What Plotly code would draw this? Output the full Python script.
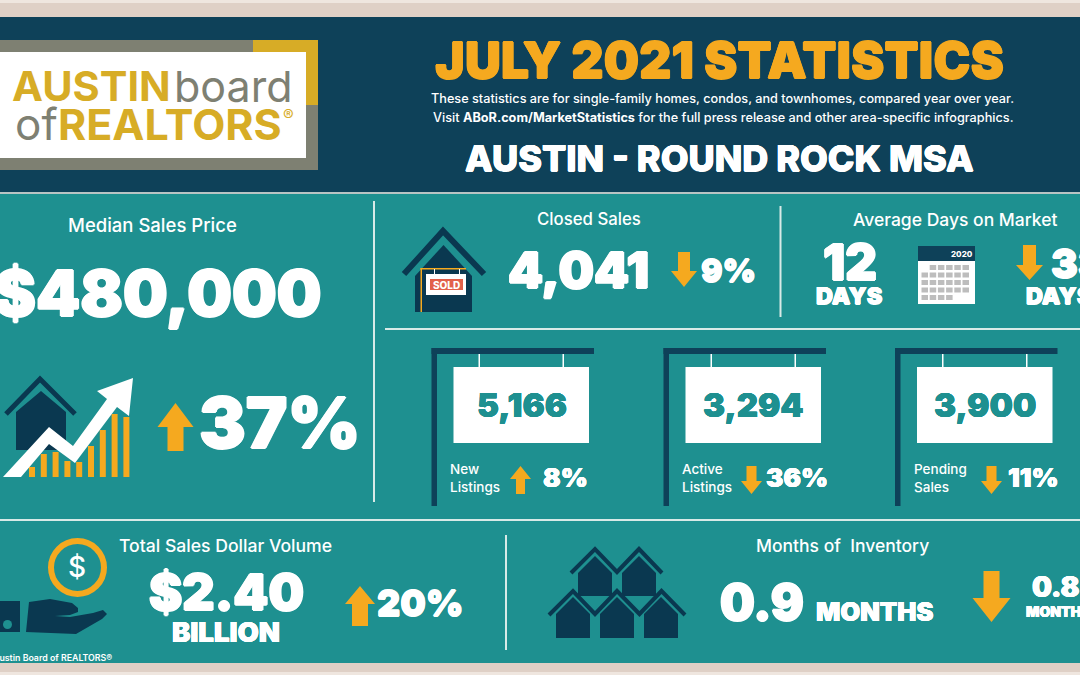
import plotly.graph_objects as go

# ---- data ----
title = "JULY 2021 STATISTICS"
subtitle_lines = [
    "These statistics are for single-family homes, condos, and townhomes, compared year over year.",
    "Visit <b>ABoR.com/MarketStatistics</b> for the full press release and other area-specific infographics.",
]
region = "AUSTIN - ROUND ROCK MSA"
median_price = "$480,000"
median_change = "37%"
closed_sales = "4,041"
closed_change = "9%"
days_on_market = "12"
days_change = "33"
sign_values = ["5,166", "3,294", "3,900"]
sign_labels = ["New<br>Listings", "Active<br>Listings", "Pending<br>Sales"]
sign_changes = ["8%", "36%", "11%"]
sign_directions = ["up", "down", "down"]
dollar_volume = "$2.40"
dollar_change = "20%"
inventory = "0.9"
inventory_change = "0.8"
growth_bar_tops = [467, 454, 452, 461, 462, 446, 430, 414, 417]

NAVY = "#0E4159"
DARK = "#0A3850"
TEAL = "#1E9090"
GOLD = "#F5A91F"
LOGOGOLD = "#D7AC26"
GREY = "#7E8072"
BEIGE = "#DFD0C6"
WHITE = "#FFFFFF"
LINE = "#D8EAE7"
HEAVY = "Inter"
BODY = "Inter"

shapes, notes = [], []


def rect(x0, y0, x1, y1, c):
    shapes.append(dict(type="rect", x0=x0, y0=y0, x1=x1, y1=y1, fillcolor=c, line_width=0))


def poly(pts, c):
    p = "M" + " L".join(f"{x},{y}" for x, y in pts) + " Z"
    shapes.append(dict(type="path", path=p, fillcolor=c, line_width=0))


def stroke(pts, c, w):
    p = "M" + " L".join(f"{x},{y}" for x, y in pts)
    shapes.append(dict(type="path", path=p, line=dict(color=c, width=w), fillcolor="rgba(0,0,0,0)"))


def text(x, y, s, size, color=WHITE, weight=400, anchor="center", family=BODY, fat=0):
    font = dict(size=size, color=color, family=family, weight=weight)
    if fat:
        font["shadow"] = f"{fat}px 0 0 {color}, -{fat}px 0 0 {color}, 0 {fat}px 0 {color}, 0 -{fat}px 0 {color}"
    notes.append(dict(x=x, y=y, text=s, showarrow=False, xanchor=anchor, yanchor="middle",
                      align="left" if anchor == "left" else "center", font=font))


def up(cx, top, wing_y, bottom, half_w, half_s):
    poly([(cx, top), (cx + half_w, wing_y), (cx + half_s, wing_y), (cx + half_s, bottom),
          (cx - half_s, bottom), (cx - half_s, wing_y), (cx - half_w, wing_y)], GOLD)


def down(cx, top, wing_y, bottom, half_w, half_s):
    poly([(cx, bottom), (cx + half_w, wing_y), (cx + half_s, wing_y), (cx + half_s, top),
          (cx - half_s, top), (cx - half_s, wing_y), (cx - half_w, wing_y)], GOLD)


def house(x0, x1, apex_y, eave_y, bottom, c=DARK):
    poly([(x0, eave_y), ((x0 + x1) / 2, apex_y), (x1, eave_y), (x1, bottom), (x0, bottom)], c)


# ---- bands ----
rect(0, 0, 1080, 675, BEIGE)
rect(0, 0, 1080, 3, "#EFE6DF")
rect(0, 17, 1080, 192, NAVY)
rect(0, 192, 1080, 194, "#B9C4C4")
rect(0, 194, 1080, 663, TEAL)
rect(0, 672, 1080, 675, "#EFE6DF")

# ---- logo ----
rect(0, 40, 318, 170, GREY)
rect(253, 40, 318, 52, LOGOGOLD)
rect(306, 40, 318, 105, LOGOGOLD)
rect(0, 52, 306, 158, WHITE)
text(10, 86, "AUSTIN", 41.5, LOGOGOLD, 700, "left", "Inter")
text(172, 86, "board", 43, GREY, 400, "left", "Inter")
text(13, 124, "of", 44, GREY, 400, "left", "Inter")
text(56, 124, "REALTORS", 43, LOGOGOLD, 700, "left", "Inter")
text(281, 115, "®", 16, LOGOGOLD, 400, "left", "Inter")

# ---- header ----
text(719, 60, title, 50, GOLD, 900, family=HEAVY, fat=0.6)
text(722, 98, subtitle_lines[0], 12.7, WHITE, 500)
text(723, 117, subtitle_lines[1], 12.7, WHITE, 500)
text(719, 158, region, 36, WHITE, 800, family=HEAVY, fat=0.5)

# ---- dividers ----
rect(373, 201, 375, 502, LINE)
rect(385, 328, 1080, 330, LINE)
rect(779.5, 206, 781.5, 317, LINE)
rect(0, 519, 1080, 521, LINE)
rect(505, 535, 507, 650, LINE)

# ---- median price ----
text(152, 225, "Median Sales Price", 18.5, WHITE, 500)
text(158, 293, median_price, 63, WHITE, 900, family=HEAVY, fat=1)
stroke([(6, 414), (40, 379), (75, 414)], DARK, 5)
house(16, 66, 391, 412, 450)
for i, t in enumerate(growth_bar_tops):
    rect(29 + i * 11.8, t, 35 + i * 11.8, 477, GOLD)
poly([(3, 477), (49, 427), (73, 446), (107, 399), (97, 391), (133, 378), (129, 416),
      (117, 407), (75, 463), (49, 444), (21, 477)], WHITE)
up(175.5, 403, 427, 451, 18, 8)
text(280, 422, median_change, 70, WHITE, 900, family=HEAVY, fat=1)

# ---- closed sales ----
text(589, 219, "Closed Sales", 16.8, WHITE, 500)
stroke([(404, 274), (443, 231), (484, 274)], DARK, 6)
house(415, 472, 245, 276, 312)
rect(420.5, 268, 422, 312, GOLD)
rect(420.5, 268, 466, 269.5, GOLD)
rect(434, 269, 435, 274, WHITE)
rect(459, 269, 460, 274, WHITE)
rect(426, 274, 466, 295, WHITE)
rect(430, 279, 463, 290, "#E2604A")
text(446.5, 284.5, "SOLD", 10, WHITE, 800, family=HEAVY)
text(578, 270, closed_sales, 50, WHITE, 900, family=HEAVY, fat=1)
down(684, 252, 271, 287, 13, 6)
text(728, 270, closed_change, 32, WHITE, 900, family=HEAVY, fat=0.6)

# ---- days on market ----
text(955, 219, "Average Days on Market", 17.5, WHITE, 500)
text(850, 262, days_on_market, 49, WHITE, 900, family=HEAVY, fat=1)
text(849, 295, "DAYS", 23.5, WHITE, 900, family=HEAVY, fat=0.5)
rect(918, 246, 975, 304, WHITE)
rect(918, 246, 975, 261, NAVY)
text(962, 254, "2020", 8, WHITE, 800, family=HEAVY)
calendar_rows = [(265, 1, 6), (272.5, 0, 6), (280, 0, 6), (287.5, 0, 6), (295, 0, 4)]
for ry, c0, c1 in calendar_rows:
    for col in range(c0, c1):
        rect(921.5 + col * 8.2, ry, 928 + col * 8.2, ry + 5, "#BDBDBD")
down(1029.5, 245, 265, 280, 13.5, 6.5)
text(1049, 263, days_change, 40, WHITE, 900, "left", HEAVY, fat=0.7)
text(1059, 295, "DAYS", 23.5, WHITE, 900, family=HEAVY, fat=0.5)

# ---- hanging signs ----
sign_offsets = [0, 232, 463.5]
arrow_cx = [520.5, 751.5, 991.5]
label_x = [448, 679.5, 912]
change_cx = [565, 797, 1033]
for i, dx in enumerate(sign_offsets):
    rect(431.5 + dx, 348, 437 + dx, 506, NAVY)
    rect(431.5 + dx, 348, 594 + dx, 354, NAVY)
    rect(478.5 + dx, 354, 480 + dx, 367, WHITE)
    rect(562.5 + dx, 354, 564 + dx, 367, WHITE)
    rect(453.5 + dx, 367, 589 + dx, 443, WHITE)
    text(521.5 + dx, 405, sign_values[i], 33, TEAL, 900, family=HEAVY, fat=0.3)
    text(label_x[i], 478, sign_labels[i], 13.5, WHITE, 500, "left")
    if sign_directions[i] == "up":
        up(arrow_cx[i], 466, 479, 494, 10.5, 4.5)
    else:
        down(arrow_cx[i], 466, 481, 494, 10.5, 5)
    text(change_cx[i], 477, sign_changes[i], 26, WHITE, 900, family=HEAVY, fat=0.3)

# ---- dollar volume ----
shapes.append(dict(type="circle", x0=51, y0=541, x1=104, y1=594, line=dict(color=GOLD, width=6),
                   fillcolor="rgba(0,0,0,0)"))
text(77, 567, "$", 28, WHITE, 500)
poly([(0, 601), (20, 601), (20, 632), (0, 632)], DARK)
shapes.append(dict(type="circle", x0=3, y0=620, x1=12, y1=629, fillcolor=TEAL, line_width=0))
poly([(29, 602), (50, 599), (72, 603), (78, 608), (78, 612), (70, 615), (55, 616), (70, 617),
      (93, 613), (103, 610), (107, 614), (102, 619), (76, 634), (26, 632)], DARK)
text(225, 545, "Total Sales Dollar Volume", 17.6, WHITE, 500)
text(226, 592, dollar_volume, 50, WHITE, 900, family=HEAVY, fat=1)
text(226, 632, "BILLION", 27.5, WHITE, 900, family=HEAVY, fat=0.3)
up(360, 586, 604, 626, 15, 8)
text(420, 603, dollar_change, 36, WHITE, 900, family=HEAVY, fat=0.6)
text(52, 657, "Austin Board of REALTORS®", 8.8, WHITE, 600)

# ---- months of inventory ----
text(842, 545, "Months of  Inventory", 17.5, WHITE, 500)
house(578, 612, 556, 573, 596)
house(622, 656, 556, 573, 596)
stroke([(571, 573), (595, 549), (617, 572), (639, 549), (662, 573)], DARK, 4)
poly([(580, 597), (610, 597), (595, 612)], TEAL)
poly([(624, 597), (654, 597), (639, 612)], TEAL)
house(556, 590, 597, 614, 638)
house(600, 634, 597, 614, 638)
house(644, 678, 597, 614, 638)
stroke([(549, 615), (573, 591), (595, 614), (617, 591), (639.5, 614), (661.5, 591), (685, 615)], DARK, 4)
text(762, 602, inventory, 49, WHITE, 900, family=HEAVY, fat=1)
text(874, 611, "MONTHS", 25.5, WHITE, 900, family=HEAVY, fat=0.3)
down(991.5, 571, 598, 622, 19, 8)
text(1056, 587, inventory_change, 28, WHITE, 900, family=HEAVY, fat=0.4)
text(1058, 611, "MONTHS", 14, WHITE, 900, family=HEAVY, fat=0.2)

fig = go.Figure()
fig.update_layout(
    width=1080, height=675, margin=dict(l=0, r=0, t=0, b=0), autosize=False,
    paper_bgcolor=BEIGE, plot_bgcolor=BEIGE, showlegend=False,
    xaxis=dict(range=[0, 1080], visible=False, fixedrange=True),
    yaxis=dict(range=[675, 0], visible=False, fixedrange=True),
    shapes=shapes, annotations=notes,
)
fig.write_html("out.html", config=dict(displayModeBar=False),
               post_script="document.body.style.margin='0';document.documentElement.style.overflow='hidden';")
